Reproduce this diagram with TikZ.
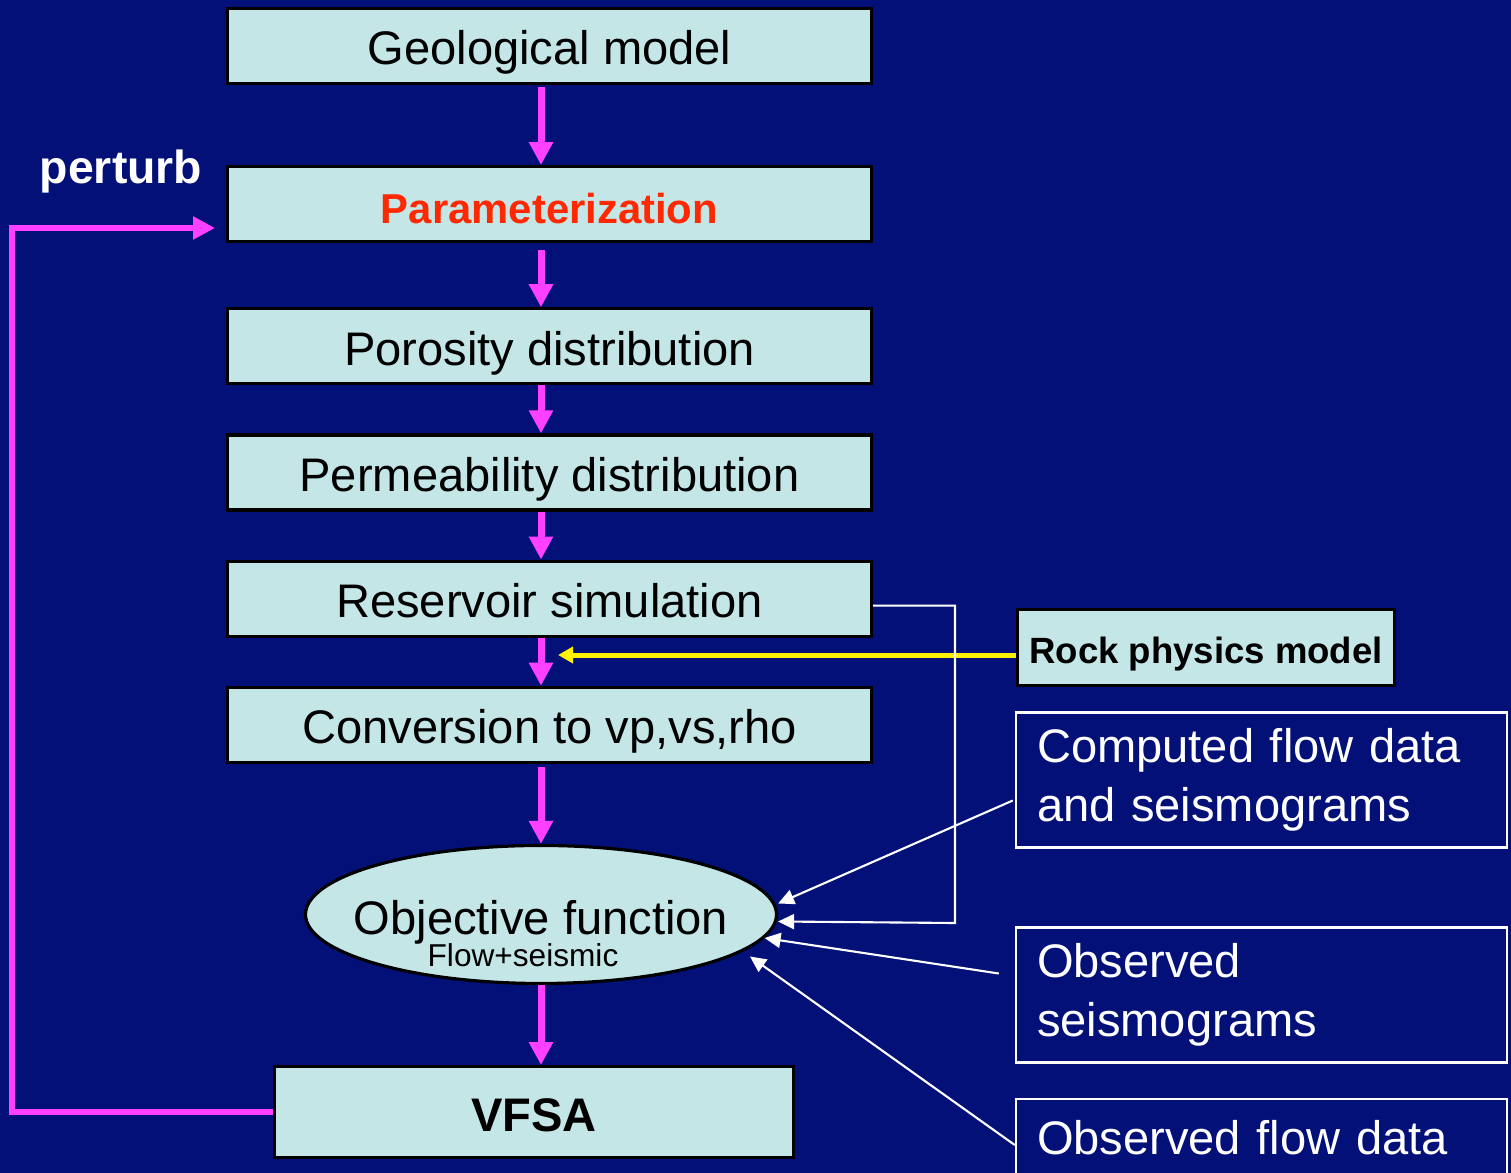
\documentclass[tikz,border=0pt]{standalone}
\usepackage{fontspec}
\setmainfont{Liberation Sans}
\usetikzlibrary{shapes.geometric,arrows.meta,positioning,calc}

\definecolor{slidebg}{RGB}{2,16,120}
\definecolor{boxfill}{RGB}{196,230,230}
\definecolor{flowpink}{RGB}{255,64,255}
\definecolor{paramred}{RGB}{255,40,0}
\newcommand{\boxfont}{\fontsize{13.4}{16.7}\selectfont}

\begin{document}
\begin{tikzpicture}[
    node distance=0.48cm and 1.4cm,
    stepbox/.style={rectangle, draw=black, fill=boxfill, line width=0.9pt, align=center, minimum height=0.75cm, minimum width=6.44cm, inner sep=0pt, text height=0.45cm, text depth=0.07cm, font=\boxfont},
    databox/.style={rectangle, draw=white, line width=0.7pt, text=white, align=left, text width=4.49cm, inner xsep=0.21cm, inner ysep=0pt, font=\boxfont},
    objell/.style={ellipse, draw=black, fill=boxfill, line width=0.9pt, minimum width=4.71cm, minimum height=1.38cm, inner sep=0pt},
    flowarrow/.style={-{Triangle[length=0.23cm,width=0.23cm]}, line width=0.07cm, draw=flowpink},
    feedarrow/.style={-{Triangle[length=0.22cm,width=0.22cm]}, line width=0.06cm, draw=flowpink},
    rockarrow/.style={-{Triangle[length=0.15cm,width=0.16cm]}, line width=0.05cm, draw=yellow},
    dataarrow/.style={-{Triangle[length=0.16cm,width=0.15cm]}, line width=0.6pt, draw=white}
]
    \fill [slidebg] (0,0) rectangle (15.11,-11.73);
    \useasboundingbox (0,0) rectangle (15.11,-11.73);
    \clip (0,0) rectangle (15.11,-11.73);

    % main column
    \node [stepbox] (geo) at (5.495,-0.46) {Geological model};
    \node [stepbox, below=0.80cm of geo, font=\bfseries\fontsize{11.9}{14}\selectfont, text=paramred] (param) {Parameterization};
    \node [stepbox, below=0.64cm of param] (poro) {Porosity distribution};
    \node [stepbox, below=of poro] (perm) {Permeability distribution};
    \node [stepbox, below=of perm] (resv) {Reservoir simulation};
    \node [stepbox, below=of resv] (conv) {Conversion to vp,vs,rho};
    \node [objell, below=0.80cm of conv, xshift=-0.085cm] (objective) {};
    \node [font=\boxfont] (objtitle) at ([yshift=-0.08cm]objective.center) {Objective function};
    \node [font=\fontsize{9}{10}\selectfont] (objsub) at ([xshift=-0.18cm,yshift=-0.41cm]objective.center) {Flow+seismic};
    \node [stepbox, below=0.80cm of objective, xshift=-0.07cm, minimum width=5.19cm, minimum height=0.91cm, font=\bfseries\boxfont] (vfsa) {VFSA};
    \node [text=white, font=\bfseries\fontsize{13.2}{15}\selectfont] (perturb) at (1.21,-1.72) {perturb};

    % data side
    \node [stepbox, minimum width=3.77cm, minimum height=0.76cm, text height=0.40cm, text depth=0.08cm, font=\bfseries\fontsize{10.4}{12}\selectfont] (rock) at (12.06,-6.475) {Rock physics model};
    \node [databox, minimum height=1.35cm] (computed) at (12.615,-7.80) {Computed flow data\\and seismograms};
    \node [databox, minimum height=1.35cm] (obsseis) at (12.615,-9.95) {Observed\\seismograms};
    \node [databox, anchor=north, inner ysep=0.21cm, text depth=1cm] (obsflow) at (12.615,-10.98) {Observed flow data};

    \coordinate (perturbin) at (2.15,-2.28);
    \coordinate (loopcorner) at (0.12,-2.28);
    \coordinate (rockin) at (5.58,-6.55);
    \coordinate (simbend) at (9.55,-9.23);

    % flow arrows
    \draw [flowarrow] (geo.south -| objective.north) ++(0,-0.02) -- (param.north -| objective.north);
    \draw [flowarrow] (param.south -| objective.north) ++(0,-0.07) -- (poro.north -| objective.north);
    \draw [flowarrow] (poro.south -| objective.north) -- (perm.north -| objective.north);
    \draw [flowarrow] (perm.south -| objective.north) -- (resv.north -| objective.north);
    \draw [flowarrow] (resv.south -| objective.north) -- (conv.north -| objective.north);
    \draw [flowarrow] (conv.south -| objective.north) ++(0,-0.03) -- (objective.north);
    \draw [flowarrow] (objective.south) -- (vfsa.north -| objective.south);
    \draw [feedarrow] (vfsa.west) -| (loopcorner) -- (perturbin);

    \draw [rockarrow] (rock.west |- rockin) -- (rockin);

    % data links
    \draw [dataarrow] ([xshift=-0.02cm,yshift=-0.205cm]computed.west) -- ([yshift=0.11cm]objective.east);
    \draw [dataarrow] ([xshift=-0.16cm,yshift=0.215cm]obsseis.west) -- (objective.-6);
    \draw [dataarrow] ([yshift=-0.47cm]obsflow.north west) -- ([shift={(2.09,-0.42)}]objective.center);
    \draw [dataarrow] ([yshift=-0.07cm]resv.east) -| (simbend) -- ([yshift=-0.07cm]objective.east);
\end{tikzpicture}
\end{document}
